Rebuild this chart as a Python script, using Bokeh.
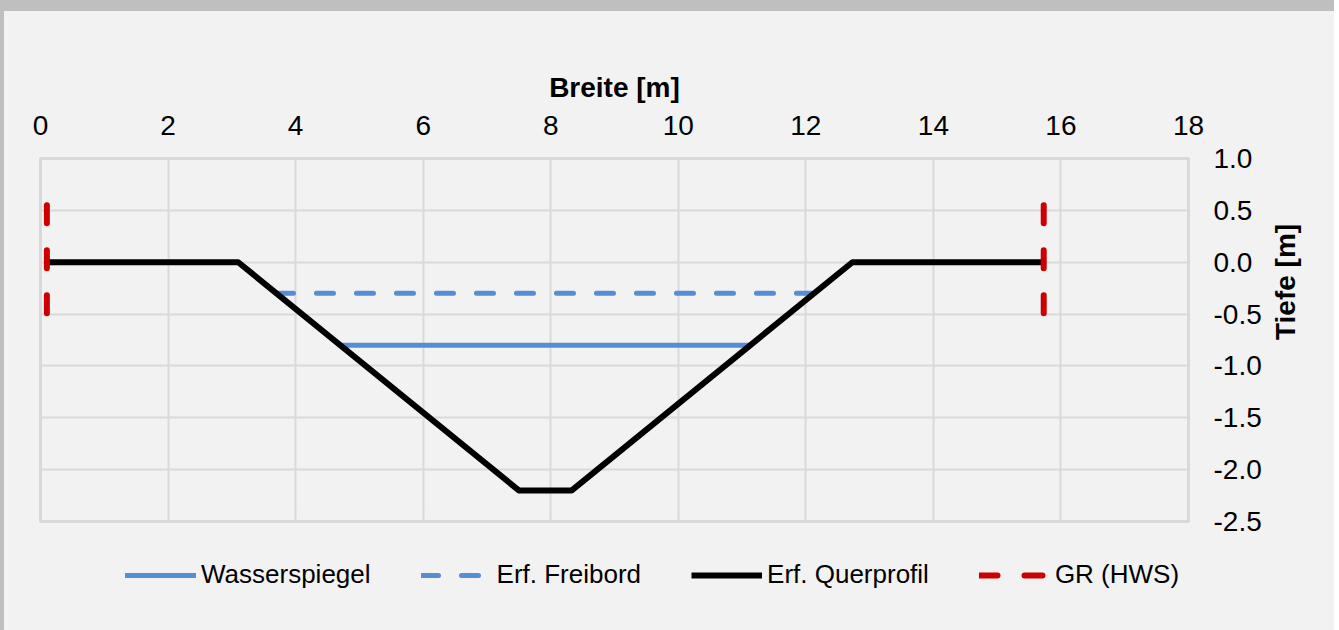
import math
from bokeh.plotting import figure
from bokeh.layouts import column
from bokeh.models import Range1d, FixedTicker, NumeralTickFormatter, Legend, LegendItem
from bokeh.embed import file_html
from bokeh.resources import INLINE

# ---- data ----
profil_x = [0.1, 3.1, 7.5, 8.33, 12.73, 15.73]
profil_y = [0.0, 0.0, -2.2, -2.2, 0.0, 0.0]

wasser_x = [4.7, 11.13]
wasser_y = [-0.8, -0.8]

freibord_x = [3.7, 12.13]
freibord_y = [-0.3, -0.3]

gr_xs = [[0.1, 0.1], [15.73, 15.73]]
gr_ys = [[0.55, -0.52], [0.55, -0.52]]

x_ticks = [0, 2, 4, 6, 8, 10, 12, 14, 16, 18]
y_ticks = [-2.5, -2.0, -1.5, -1.0, -0.5, 0.0, 0.5, 1.0]

series_names = ["Wasserspiegel", "Erf. Freibord", "Erf. Querprofil", "GR (HWS)"]

FONT = "Liberation Sans"
BG = "#f2f2f2"
GRID = "#d9d9d9"
BLUE = "#558ed5"
RED = "#cc0000"

STYLES = {
    "Wasserspiegel": dict(line_color=BLUE, line_width=5, line_cap="round"),
    "Erf. Freibord": dict(line_color=BLUE, line_width=5, line_dash="17 23", line_cap="round"),
    "Erf. Querprofil": dict(line_color="black", line_width=6, line_join="round"),
    "GR (HWS)": dict(line_color=RED, line_width=6, line_dash="18 27", line_cap="round"),
}

p = figure(width=1330, height=534, output_backend="svg", toolbar_location=None,
           x_axis_location="above", y_axis_location="right",
           x_range=Range1d(0, 18), y_range=Range1d(-2.5, 1.0),
           min_border_left=36, min_border_right=146,
           min_border_top=147, min_border_bottom=24)

p.background_fill_color = BG
p.border_fill_color = BG
p.outline_line_color = GRID
p.outline_line_width = 3

# axes
xa = p.xaxis[0]
xa.ticker = FixedTicker(ticks=x_ticks)
xa.axis_label = "Breite [m]"
ya = p.yaxis[0]
ya.ticker = FixedTicker(ticks=y_ticks)
ya.formatter = NumeralTickFormatter(format="0.0")
ya.axis_label = "Tiefe [m]"

for ax in (xa, ya):
    ax.axis_line_color = None
    ax.major_tick_line_color = None
    ax.minor_tick_line_color = None
    ax.major_tick_out = 0
    ax.major_tick_in = 0
    ax.major_label_text_font = FONT
    ax.major_label_text_font_size = "28px"
    ax.major_label_text_color = "black"
    ax.axis_label_text_font = FONT
    ax.axis_label_text_font_size = "28px"
    ax.axis_label_text_font_style = "bold"
    ax.axis_label_text_color = "black"

xa.major_label_standoff = 24
xa.axis_label_standoff = 10
ya.major_label_standoff = 25
ya.axis_label_standoff = 21
ya.axis_label_orientation = math.pi / 2

p.xgrid.grid_line_color = GRID
p.xgrid.grid_line_width = 2
p.ygrid.grid_line_color = GRID
p.ygrid.grid_line_width = 2

# data glyphs
p.line(freibord_x, freibord_y, **STYLES["Erf. Freibord"])
p.line(wasser_x, wasser_y, **STYLES["Wasserspiegel"])
p.line(profil_x, profil_y, **STYLES["Erf. Querprofil"])
p.multi_line(gr_xs, gr_ys, **STYLES["GR (HWS)"])

# legend strip below the chart (its own renderers sit outside its visible range)
leg = figure(width=1330, height=85, output_backend="svg", toolbar_location=None,
             x_range=Range1d(0, 1), y_range=Range1d(100, 101),
             min_border=0, min_border_left=36, min_border_right=146,
             min_border_top=0, min_border_bottom=0)
leg.axis.visible = False
leg.grid.visible = False
leg.outline_line_color = None
leg.background_fill_color = None
leg.border_fill_color = BG

leg_data = {
    "Wasserspiegel": (wasser_x, wasser_y),
    "Erf. Freibord": (freibord_x, freibord_y),
    "Erf. Querprofil": (profil_x, profil_y),
    "GR (HWS)": (gr_xs[0], gr_ys[0]),
}
items = []
for name in series_names:
    lx, ly = leg_data[name]
    r = leg.line(lx, ly, **STYLES[name])
    items.append(LegendItem(label=name, renderers=[r]))

legend = Legend(items=items, orientation="horizontal", location=(85, 40))
legend.background_fill_alpha = 0
legend.border_line_color = None
legend.padding = 0
legend.margin = 0
legend.spacing = 50
legend.glyph_width = 71
legend.glyph_height = 30
legend.label_height = 30
legend.label_standoff = 5
legend.label_text_font = FONT
legend.label_text_font_size = "26px"
legend.label_text_color = "black"
leg.add_layout(legend, "center")

root = column(p, leg, spacing=0,
              styles={"background-color": BG,
                      "border-top": "11px solid #bfbfbf",
                      "border-left": "4px solid #bfbfbf"})

html = file_html(root, INLINE)
open("out.html", "w").write(html)
